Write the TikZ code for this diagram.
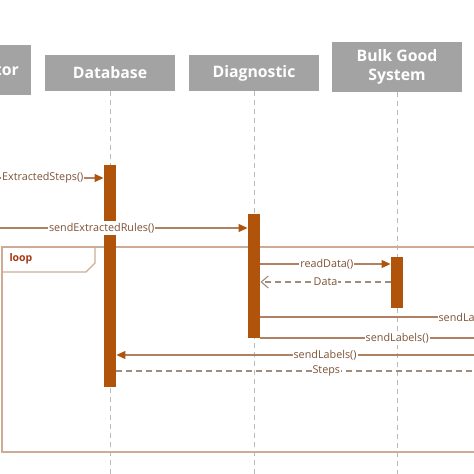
\documentclass[tikz,border=0pt]{standalone}
\usepackage{fontspec}
\setmainfont{Open Sans}
\usepackage{xcolor}
\definecolor{headgray}{RGB}{163,163,163}
\definecolor{lifegray}{RGB}{185,185,185}
\definecolor{bargold}{RGB}{176,84,12}
\definecolor{msgline}{RGB}{175,128,98}
\definecolor{replyline}{RGB}{160,140,125}
\definecolor{msgtext}{RGB}{125,82,52}
\definecolor{loopline}{RGB}{205,172,150}
\definecolor{looptext}{RGB}{165,55,20}
\usepackage{tikz}
\usetikzlibrary{arrows.meta}

\begin{document}
\begin{tikzpicture}[x=1pt,y=-1pt,line cap=butt]
	\tikzstyle{head}=[fill=headgray,text=white,font=\bfseries\fontsize{15.8}{19.5}\selectfont,align=center,minimum width=130pt,inner sep=0pt];
	\tikzstyle{bar}=[fill=bargold,minimum width=12.5pt,inner sep=0pt];
	\tikzstyle{life}=[lifegray,line width=1pt,dash pattern=on 5pt off 4pt];
	\tikzstyle{msg}=[msgline,line width=1.2pt];
	\tikzstyle{lbl}=[fill=white,text=msgtext,font=\fontsize{10.8}{12}\selectfont,inner xsep=1pt,inner ysep=2pt];
	\tikzstyle{call}=[msg,-{Triangle[length=9pt,width=8pt,color=bargold]}];
	\tikzstyle{reply}=[replyline,line width=1.1pt,dash pattern=on 6pt off 4pt];
	\useasboundingbox (0,0) rectangle (474,474);
	\clip (0,0) rectangle (474,474);
	\node[head,anchor=east,minimum height=50pt,text width=120pt,align=right,inner xsep=12pt] (ext) at (31,70) {tor};
	\node[head,minimum height=36pt] (db) at (110,73) {Database};
	\node[head,minimum height=36pt] (diag) at (254,73) {Diagnostic};
	\node[head,minimum height=50pt] (bulk) at (397,67) {Bulk Good\\System};
	\coordinate (dbend) at (110,480);
	\coordinate (diagend) at (254,480);
	\coordinate (bulkend) at (397,480);
	\draw[life] (db.south) -- (dbend);
	\draw[life] (diag.south) -- (diagend);
	\draw[life] (bulk.south) -- (bulkend);
	\draw[loopline,line width=1.5pt] (2,247) rectangle (560,452);
	\draw[loopline,line width=1.2pt] (2,272) -- (86,272) -- (95,263) -- (95,247);
	\node[anchor=west,text=looptext,font=\bfseries\fontsize{10.5}{12}\selectfont] (looplbl) at (6,259) {loop};
	\node[bar,minimum height=222pt] (dbbar) at (110,276) {};
	\node[bar,minimum height=124pt] (diagbar) at (254,276) {};
	\node[bar,minimum height=51pt] (bulkbar) at (397,282.5) {};
	\coordinate (m1) at (-20,178);
	\coordinate (m2) at (-20,228);
	\coordinate (m3) at (0,264);
	\coordinate (m4) at (0,282);
	\coordinate (m5) at (520,317);
	\coordinate (m6) at (520,338);
	\coordinate (m7) at (520,355);
	\coordinate (m8) at (520,371);
	\draw[call] (m1) -- node[lbl,anchor=east,pos=.85]{ExtractedSteps()} (dbbar.west |- m1);
	\draw[call] (m2) -- node[lbl,pos=.455]{sendExtractedRules()} (diagbar.west |- m2);
	\draw[call] (diagbar.east |- m3) -- node[lbl,pos=.51]{readData()} (bulkbar.west |- m3);
	\draw[reply,-{Straight Barb[length=7pt,width=12pt]}] (bulkbar.west |- m4) -- node[lbl]{Data} (diagbar.east |- m4);
	\draw[msg] (diagbar.east |- m5) -- node[lbl,anchor=west,pos=.68]{sendLa} (m5);
	\draw[msg] (diagbar.east |- m6) -- node[lbl,pos=.527]{sendLabels()} (m6);
	\draw[call] (m7) -- node[lbl,pos=.483]{sendLabels()} (dbbar.east |- m7);
	\draw[reply] (dbbar.east |- m8) -- node[lbl,pos=.52]{Steps} (m8);
\end{tikzpicture}
\end{document}
